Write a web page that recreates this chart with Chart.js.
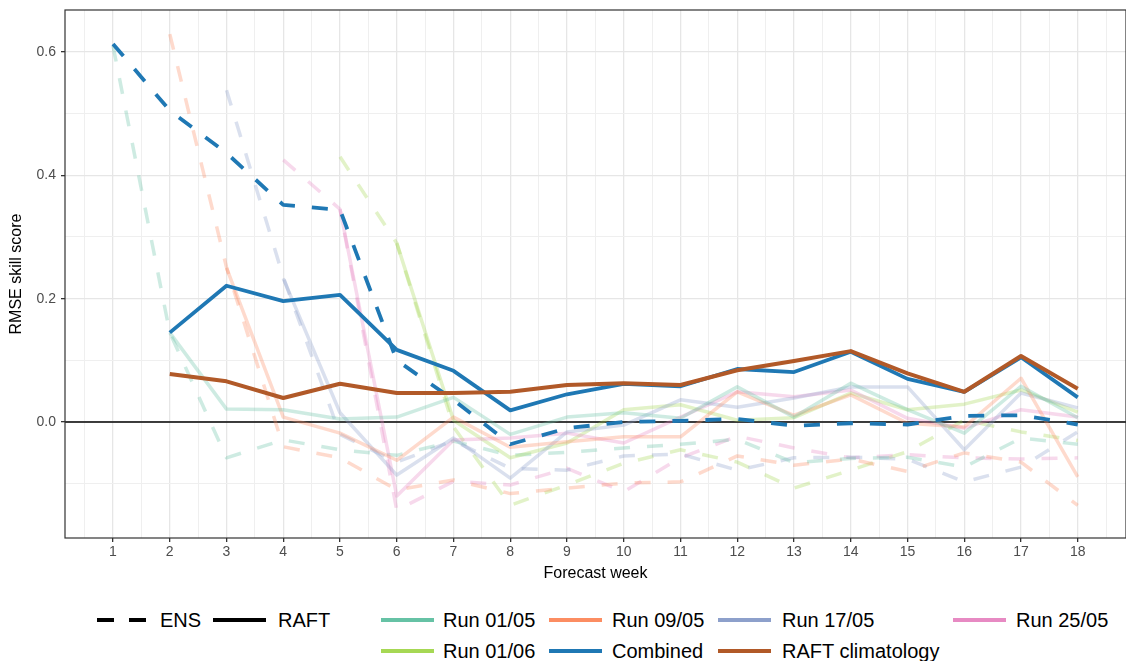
<!DOCTYPE html>
<html lang="en">
  <head>
    <meta charset="UTF-8" />
    <title>RMSE skill score by forecast week</title>
    <script src="https://cdn.jsdelivr.net/npm/chart.js"></script>
    <style>
      body {
        margin: 0;
        background: #fff;
        width: 1126px;
        height: 661px;
        overflow: hidden;
        position: relative;
        font-family: "Liberation Sans", Arial, sans-serif;
      }
      #wrap { position: absolute; left: 0; top: 0; width: 1126px; height: 590px; }
      .key { position: absolute; height: 4px; }
      .lbl {
        position: absolute;
        font-size: 20px;
        line-height: 20px;
        color: #000;
        white-space: nowrap;
      }
    </style>
  </head>
  <body>
    <div id="wrap"><canvas id="chart" width="1126" height="590"></canvas></div>
    <div id="legend"></div>

    <script>
      // forecast weeks on the x axis
      const weeks = [1, 2, 3, 4, 5, 6, 7, 8, 9, 10, 11, 12, 13, 14, 15, 16, 17, 18];

      // ENS (dashed) per run
      const ensRun0105 = [0.61, 0.145, -0.058, -0.029, -0.045, -0.054, -0.031, -0.054, -0.049, -0.042, -0.036, -0.028, -0.066, -0.059, -0.057, -0.073, -0.026, -0.036];
      const ensRun0905 = [null, 0.629, 0.251, -0.04, -0.058, -0.11, -0.094, -0.116, -0.107, -0.099, -0.097, -0.055, -0.07, -0.06, -0.08, -0.05, -0.065, -0.135];
      const ensRun1705 = [null, null, 0.538, 0.235, -0.02, -0.065, -0.03, -0.075, -0.078, -0.055, -0.052, -0.078, -0.058, -0.057, -0.06, -0.097, -0.073, -0.016];
      const ensRun2505 = [null, null, null, 0.425, 0.345, -0.143, -0.096, -0.102, -0.075, -0.113, -0.058, -0.023, -0.042, -0.058, -0.053, -0.058, -0.06, -0.058];
      const ensRun0106 = [null, null, null, null, 0.43, 0.29, -0.008, -0.135, -0.102, -0.067, -0.045, -0.065, -0.107, -0.078, -0.048, 0.003, -0.016, -0.03];

      // RAFT (solid) per run
      const raftRun0105 = [null, 0.145, 0.021, 0.02, 0.005, 0.008, 0.04, -0.02, 0.008, 0.015, 0.006, 0.057, 0.008, 0.063, 0.02, -0.018, 0.058, 0.007];
      const raftRun0905 = [null, null, 0.25, 0.008, -0.018, -0.062, 0.008, -0.041, -0.032, -0.024, -0.024, 0.049, 0.011, 0.044, -0.002, -0.008, 0.071, -0.089];
      const raftRun1705 = [null, null, null, 0.233, 0.015, -0.086, -0.026, -0.091, -0.016, -0.005, 0.036, 0.024, 0.039, 0.057, 0.057, -0.045, 0.047, 0.023];
      const raftRun2505 = [null, null, null, null, 0.345, -0.12, -0.029, -0.026, -0.018, -0.034, 0.008, 0.049, 0.041, 0.052, 0.006, -0.01, 0.02, 0.008];
      const raftRun0106 = [null, null, null, null, null, 0.29, 0.003, -0.058, -0.034, 0.02, 0.028, 0.003, 0.007, 0.047, 0.02, 0.029, 0.052, 0.016];

      // combined runs and climatology
      const ensCombined = [0.613, 0.505, 0.436, 0.352, 0.344, 0.1, 0.036, -0.036, -0.01, 0, 0.002, 0.005, -0.006, -0.002, -0.004, 0.01, 0.011, -0.004];
      const raftCombined = [null, 0.145, 0.221, 0.196, 0.206, 0.117, 0.083, 0.019, 0.045, 0.062, 0.058, 0.086, 0.081, 0.114, 0.07, 0.049, 0.105, 0.04];
      const raftClimatology = [null, 0.078, 0.066, 0.039, 0.062, 0.047, 0.047, 0.049, 0.06, 0.063, 0.06, 0.084, 0.099, 0.115, 0.079, 0.049, 0.107, 0.054];

      // axis ticks
      const yMajorTicks = [0, 0.2, 0.4, 0.6];
      const yTickLabels = ["0.0", "0.2", "0.4", "0.6"];
      const yMinorTicks = [-0.1, 0.1, 0.3, 0.5];

      const runNames = ["Run 01/05", "Run 09/05", "Run 17/05", "Run 25/05", "Run 01/06"];
      const runColours = ["#66c2a5", "#fc8d62", "#8da0cb", "#e78ac3", "#a6d854"];
      const ensRuns = [ensRun0105, ensRun0905, ensRun1705, ensRun2505, ensRun0106];
      const raftRuns = [raftRun0105, raftRun0905, raftRun1705, raftRun2505, raftRun0106];
      const combinedColour = "#1f78b4";
      const climColour = "#b15928";

      const FONT = "'Liberation Sans', Arial, sans-serif";
      const DASH = [16, 17];

      function points(values) {
        return values.map((v, i) => ({ x: weeks[i], y: v }));
      }

      function faint(hex, a) {
        const n = parseInt(hex.slice(1), 16);
        return `rgba(${n >> 16}, ${(n >> 8) & 255}, ${n & 255}, ${a})`;
      }

      function line(label, values, colour, dashed, order, width) {
        return {
          label: label,
          data: points(values),
          borderColor: colour,
          borderWidth: width || 3.5,
          borderDash: dashed ? DASH : [],
          borderCapStyle: "butt",
          borderJoinStyle: "round",
          pointRadius: 0,
          tension: 0,
          spanGaps: false,
          fill: false,
          order: order,
        };
      }

      const datasets = [
        line("RAFT climatology", raftClimatology, climColour, false, 0, 4),
        line("Combined RAFT", raftCombined, combinedColour, false, 1, 3.8),
        line("Combined ENS", ensCombined, combinedColour, true, 2, 3.8),
      ];
      runNames.forEach((name, i) => {
        datasets.push(line(name + " RAFT", raftRuns[i], faint(runColours[i], 0.32), false, 10 + i));
        datasets.push(line(name + " ENS", ensRuns[i], faint(runColours[i], 0.32), true, 20 + i));
      });

      // zero line under the data, panel border on top
      const panel = {
        id: "panel",
        beforeDatasetsDraw(chart) {
          const { ctx, chartArea: a, scales } = chart;
          const y0 = scales.y.getPixelForValue(0);
          ctx.save();
          ctx.strokeStyle = "#000";
          ctx.lineWidth = 1.6;
          ctx.beginPath();
          ctx.moveTo(a.left, y0);
          ctx.lineTo(a.right, y0);
          ctx.stroke();
          ctx.restore();
        },
        afterDraw(chart) {
          const { ctx, chartArea: a } = chart;
          ctx.save();
          ctx.strokeStyle = "#333";
          ctx.lineWidth = 1.2;
          ctx.strokeRect(a.left, a.top, a.right - a.left, a.bottom - a.top);
          ctx.restore();
        },
      };

      const xGrid = weeks.map((w) => w - 0.5).concat(weeks).concat([18.5]).sort((a, b) => a - b);
      const yGrid = yMinorTicks.concat(yMajorTicks).sort((a, b) => a - b);

      new Chart(document.getElementById("chart"), {
        type: "line",
        data: { datasets: datasets },
        options: {
          responsive: false,
          maintainAspectRatio: false,
          animation: false,
          layout: { padding: { top: 10, left: 0, right: 0, bottom: 0 } },
          plugins: { legend: { display: false }, tooltip: { enabled: false } },
          scales: {
            x: {
              type: "linear",
              min: 0.154,
              max: 18.85,
              afterBuildTicks: (s) => { s.ticks = xGrid.map((v) => ({ value: v })); },
              afterFit: (s) => {
                s.height = 52;
                s.paddingLeft = 0;
                s.paddingRight = 0;
              },
              ticks: {
                autoSkip: false,
                maxRotation: 0,
                padding: 2,
                color: "#4d4d4d",
                font: { family: FONT, size: 14 },
                callback: (v) => (Number.isInteger(v) ? String(v) : ""),
              },
              grid: {
                color: (c) => (Number.isInteger(c.tick.value) ? "#e6e6e6" : "#efefef"),
                lineWidth: (c) => (Number.isInteger(c.tick.value) ? 1.3 : 1),
                tickColor: (c) => (Number.isInteger(c.tick.value) ? "#333" : "rgba(0,0,0,0)"),
                tickLength: 4,
              },
              border: { display: false },
              title: {
                display: true,
                text: "Forecast week",
                color: "#000",
                font: { family: FONT, size: 16 },
                padding: { top: 0, bottom: 7 },
              },
            },
            y: {
              min: -0.188,
              max: 0.668,
              afterBuildTicks: (s) => { s.ticks = yGrid.map((v) => ({ value: v })); },
              afterFit: (s) => {
                s.width = 65;
                s.paddingTop = 0;
                s.paddingBottom = 0;
              },
              ticks: {
                autoSkip: false,
                padding: 5,
                color: "#4d4d4d",
                font: { family: FONT, size: 14 },
                callback: (v) => {
                  const k = yMajorTicks.indexOf(v);
                  return k >= 0 ? yTickLabels[k] : "";
                },
              },
              grid: {
                color: (c) => (yMajorTicks.includes(c.tick.value) ? "#e6e6e6" : "#efefef"),
                lineWidth: (c) => (yMajorTicks.includes(c.tick.value) ? 1.3 : 1),
                tickColor: (c) => (yMajorTicks.includes(c.tick.value) ? "#333" : "rgba(0,0,0,0)"),
                tickLength: 4,
              },
              border: { display: false },
              title: {
                display: true,
                text: "RMSE skill score",
                color: "#000",
                font: { family: FONT, size: 16 },
                padding: { top: 7, bottom: 0 },
              },
            },
          },
        },
        plugins: [panel],
      });

      // legend below the panel
      const legendItems = [
        { text: "ENS", colour: "#000", dashed: true, key: 97, label: 160, row: 0 },
        { text: "RAFT", colour: "#000", dashed: false, key: 213, label: 278, row: 0 },
        { text: runNames[0], colour: runColours[0], key: 381, label: 443, row: 0 },
        { text: runNames[1], colour: runColours[1], key: 549, label: 612, row: 0 },
        { text: runNames[2], colour: runColours[2], key: 718, label: 782, row: 0 },
        { text: runNames[3], colour: runColours[3], key: 953, label: 1016, row: 0 },
        { text: runNames[4], colour: runColours[4], key: 381, label: 443, row: 1 },
        { text: "Combined", colour: combinedColour, key: 549, label: 612, row: 1 },
        { text: "RAFT climatology", colour: climColour, key: 718, label: 782, row: 1 },
      ];
      const rowY = [620, 651];
      const legend = document.getElementById("legend");
      legendItems.forEach((it) => {
        const cy = rowY[it.row];
        if (it.dashed) {
          [0, 32].forEach((dx) => {
            const d = document.createElement("div");
            d.className = "key";
            d.style.cssText = `left:${it.key + dx}px;top:${cy - 2}px;width:17px;background:${it.colour}`;
            legend.appendChild(d);
          });
        } else {
          const k = document.createElement("div");
          k.className = "key";
          k.style.cssText = `left:${it.key}px;top:${cy - 2}px;width:53px;background:${it.colour}`;
          legend.appendChild(k);
        }
        const t = document.createElement("div");
        t.className = "lbl";
        t.textContent = it.text;
        t.style.left = it.label + "px";
        t.style.top = cy - 10 + "px";
        legend.appendChild(t);
      });
    </script>
  </body>
</html>
